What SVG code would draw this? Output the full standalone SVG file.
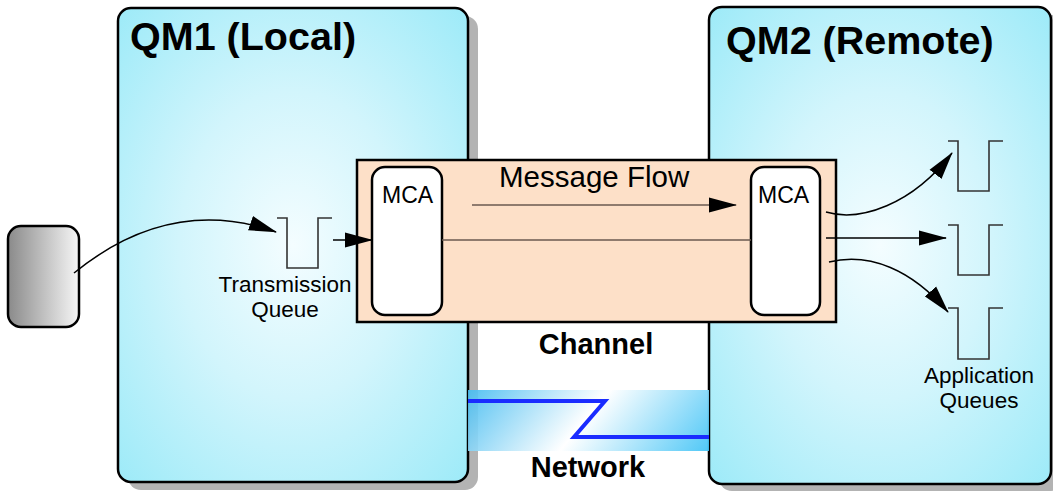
<svg xmlns="http://www.w3.org/2000/svg" width="1053" height="491" viewBox="0 0 1053 491">
  <defs>
    <radialGradient id="qmGrad" cx="0.5" cy="0.5" r="0.72" fx="0.5" fy="0.5">
      <stop offset="0" stop-color="#f4fdff"/>
      <stop offset="0.45" stop-color="#d2f5fc"/>
      <stop offset="1" stop-color="#9beaf8"/>
    </radialGradient>
    <linearGradient id="clientGrad" x1="0" y1="0" x2="1" y2="0">
      <stop offset="0" stop-color="#8a8a8a"/>
      <stop offset="1" stop-color="#f6f6f6"/>
    </linearGradient>
    <linearGradient id="netGrad" gradientUnits="userSpaceOnUse" x1="469" y1="325" x2="701" y2="515">
      <stop offset="0.12" stop-color="#3fbaf0"/>
      <stop offset="0.5" stop-color="#ffffff"/>
      <stop offset="0.88" stop-color="#44c4f6"/>
    </linearGradient>
    <marker id="arrow" markerUnits="userSpaceOnUse" markerWidth="28" markerHeight="16" refX="27" refY="8" orient="auto" viewBox="0 0 28 16">
      <path d="M0,0.5 L28,8 L0,15.5 Z" fill="#000"/>
    </marker>
    <style>
      .shadow { fill: #b3b3b3; }
      .qm { fill: url(#qmGrad); stroke: #000; stroke-width: 2.5; }
      .title { font-family: "Liberation Sans", Arial, sans-serif; font-weight: bold; font-size: 39.5px; fill: #000; }
      .label { font-family: "Liberation Sans", Arial, sans-serif; font-size: 22.5px; fill: #000; }
      .mca { fill: #fff; stroke: #000; stroke-width: 2.5; }
      .mcaText { font-family: "Liberation Sans", Arial, sans-serif; font-size: 23px; fill: #000; }
      .bold { font-family: "Liberation Sans", Arial, sans-serif; font-weight: bold; font-size: 29px; fill: #000; }
      .queue { fill: none; stroke: #333; stroke-width: 1.6; }
      .conn { fill: none; stroke: #000; stroke-width: 1.5; }
      .flow { fill: none; stroke: #6a5a50; stroke-width: 1.5; }
    </style>
  </defs>

  <g id="qm1">
    <rect class="shadow" x="128" y="16" width="350" height="474" rx="13"/>
    <rect class="qm" x="118" y="8" width="350" height="474" rx="13"/>
    <text class="title" x="130" y="50">QM1 (Local)</text>
  </g>

  <g id="qm2">
    <rect class="shadow" x="719" y="15" width="345" height="476" rx="13"/>
    <rect class="qm" x="709" y="7" width="342" height="477" rx="13"/>
    <text class="title" x="726" y="54">QM2 (Remote)</text>
  </g>

  <g id="network">
    <rect x="468" y="390" width="241" height="61" fill="url(#netGrad)" opacity="0.92"/>
    <path d="M468,401 H605 L574,437 H709" fill="none" stroke="#1a2cff" stroke-width="4" stroke-linejoin="miter"/>
    <text class="bold" x="588" y="477" text-anchor="middle">Network</text>
  </g>

  <g id="channel">
    <rect x="357" y="160" width="479" height="162" fill="#fde0c8" stroke="#000" stroke-width="2.5"/>
    <text x="499" y="187" font-family="Liberation Sans, Arial, sans-serif" font-size="29.5" fill="#000">Message Flow</text>
    <text class="bold" x="596" y="354" text-anchor="middle">Channel</text>
  </g>

  <g id="mca-left">
    <rect class="mca" x="372" y="167" width="70" height="148" rx="13"/>
    <text class="mcaText" x="382" y="203">MCA</text>
  </g>

  <g id="mca-right">
    <rect class="mca" x="751" y="167" width="69" height="148" rx="13"/>
    <text class="mcaText" x="758" y="203">MCA</text>
  </g>

  <g id="client">
    <rect x="8" y="226" width="71" height="101" rx="13" fill="url(#clientGrad)" stroke="#000" stroke-width="2.5"/>
  </g>

  <g id="transmission-queue">
    <path class="queue" d="M277,218 H287 V268 H318 V218 H332"/>
    <text class="label" x="285" y="292" text-anchor="middle">Transmission</text>
    <text class="label" x="285" y="317" text-anchor="middle">Queue</text>
  </g>

  <g id="app-queue-1">
    <path class="queue" d="M948,141 H958 V191 H989 V141 H1003"/>
  </g>
  <g id="app-queue-2">
    <path class="queue" d="M948,225 H958 V275 H989 V225 H1003"/>
  </g>
  <g id="app-queue-3">
    <path class="queue" d="M948,308 H958 V359 H989 V308 H1003"/>
    <text class="label" x="979" y="383" text-anchor="middle">Application</text>
    <text class="label" x="979" y="408" text-anchor="middle">Queues</text>
  </g>

  <g id="connectors">
    <path class="conn" d="M74,273 Q170,195 276,232" marker-end="url(#arrow)"/>
    <path class="conn" d="M333,240 H372" marker-end="url(#arrow)"/>
    <path class="flow" d="M472,205 H736" marker-end="url(#arrow)"/>
    <path class="flow" d="M442,240 H751"/>
    <path class="conn" d="M826,212 C860,222 912,205 952,153" marker-end="url(#arrow)"/>
    <path class="conn" d="M826,238 H946" marker-end="url(#arrow)"/>
    <path class="conn" d="M829,262 C870,252 912,270 948,312" marker-end="url(#arrow)"/>
  </g>
</svg>
